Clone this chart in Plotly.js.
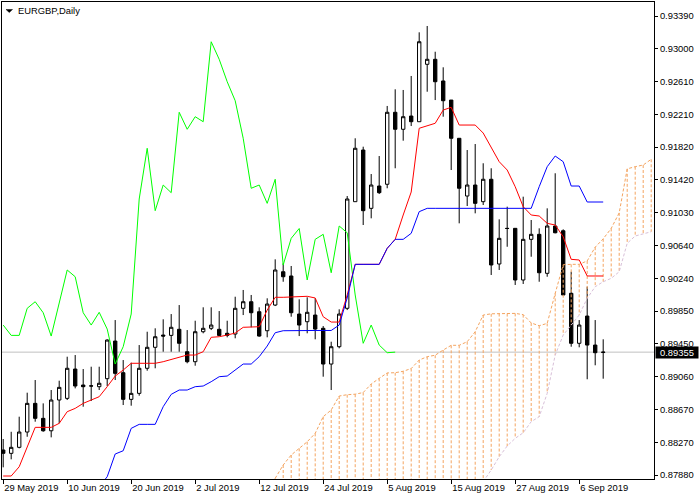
<!DOCTYPE html>
<html><head><meta charset="utf-8">
<script src="https://cdn.plot.ly/plotly-3.0.1.min.js"></script>
<style>html,body{margin:0;padding:0;background:#fff}#chart{width:700px;height:500px}</style>
</head><body><div id="chart"></div>
<script>
const symbolTitle = "EURGBP,Daily";
const xTickLabels = ["29 May 2019","10 Jun 2019","20 Jun 2019","2 Jul 2019","12 Jul 2019","24 Jul 2019","5 Aug 2019","15 Aug 2019","27 Aug 2019","6 Sep 2019"];
const xTickBars = [0,8,16,24,32,40,48,56,64,72];
const yTickLabels = ["0.93390","0.93000","0.92610","0.92210","0.91820","0.91420","0.91030","0.90640","0.90240","0.89850","0.89450","0.89060","0.88670","0.88270","0.87880"];

const open = [0.88180,0.88140,0.88212,0.88396,0.88740,0.88560,0.88411,0.88780,0.88800,0.89152,
0.88960,0.88950,0.88940,0.89036,0.89488,0.89108,0.88788,0.88860,0.89161,0.89413,
0.89560,0.89556,0.89629,0.89360,0.89240,0.89600,0.89641,0.89629,0.89581,0.89572,
0.89881,0.89960,0.89840,0.89612,0.89920,0.90320,0.90269,0.89812,0.89720,0.89800,
0.89641,0.89212,0.89420,0.89881,0.91161,0.91781,0.91081,0.91349,0.91370,0.92234,
0.92030,0.92189,0.92121,0.92810,0.92870,0.92610,0.92381,0.91922,0.91229,0.91361,
0.91161,0.91430,0.90413,0.90841,0.90841,0.90221,0.90709,0.90769,0.90301,0.90869,
0.90812,0.90061,0.89461,0.89788,0.89440,0.89350];
const high = [0.88312,0.88399,0.88580,0.88868,0.89020,0.88740,0.88900,0.89012,0.89300,0.89320,
0.89152,0.89180,0.89180,0.89509,0.89740,0.89260,0.89228,0.89440,0.89600,0.89641,
0.89749,0.89812,0.89920,0.89620,0.89732,0.89893,0.89893,0.89848,0.89732,0.90020,
0.90101,0.90041,0.89893,0.90001,0.90469,0.90421,0.90389,0.89989,0.90013,0.90001,
0.89668,0.89480,0.89869,0.91229,0.91922,0.91821,0.91493,0.91709,0.92310,0.92510,
0.92502,0.92670,0.93194,0.93270,0.92961,0.92774,0.92381,0.91922,0.91781,0.91853,
0.91622,0.91562,0.90949,0.91101,0.90841,0.91221,0.90941,0.90841,0.91081,0.91502,
0.90829,0.90320,0.89740,0.90140,0.89740,0.89509];
const low = [0.87972,0.88068,0.88200,0.88339,0.88520,0.88399,0.88332,0.88500,0.88780,0.88920,
0.88700,0.88768,0.88900,0.88948,0.89020,0.88720,0.88712,0.88832,0.89132,0.89161,
0.89360,0.89360,0.89360,0.89221,0.89192,0.89581,0.89620,0.89548,0.89533,0.89521,
0.89800,0.89653,0.89540,0.89533,0.89908,0.90200,0.89780,0.89548,0.89581,0.89509,
0.89060,0.88900,0.89401,0.89860,0.91161,0.90881,0.90961,0.91253,0.91322,0.91562,
0.91893,0.92069,0.92121,0.92481,0.92381,0.92181,0.91541,0.90901,0.91109,0.91021,
0.91121,0.90281,0.90341,0.90620,0.90161,0.90173,0.90500,0.90200,0.90260,0.90781,
0.90041,0.89420,0.89413,0.89029,0.89197,0.89036];
const close = [0.88140,0.88212,0.88396,0.88740,0.88560,0.88411,0.88780,0.88932,0.89161,0.88948,
0.88940,0.88948,0.88981,0.89500,0.89100,0.88788,0.88860,0.89161,0.89413,0.89540,
0.89548,0.89653,0.89461,0.89240,0.89600,0.89641,0.89680,0.89556,0.89556,0.89881,
0.89960,0.89828,0.89548,0.89932,0.90341,0.90260,0.89828,0.89680,0.89833,0.89632,
0.89212,0.89420,0.89812,0.91193,0.91802,0.91053,0.91361,0.91269,0.92234,0.92030,
0.92181,0.92121,0.93081,0.92870,0.92601,0.92373,0.91922,0.91322,0.91361,0.91141,
0.91430,0.90401,0.90721,0.90839,0.90221,0.90709,0.90769,0.90308,0.90869,0.90788,
0.90041,0.89461,0.89680,0.89440,0.89348,0.89355];

// Tenkan-sen (red)
const tenkan = [0.87868,0.87868,0.87979,0.88228,0.88452,0.88452,0.88452,0.88500,0.88640,0.88680,
0.88740,0.88780,0.88820,0.88940,0.89068,0.89140,0.89221,0.89221,0.89221,0.89221,
0.89240,0.89269,0.89300,0.89320,0.89320,0.89360,0.89533,0.89540,0.89560,0.89584,
0.89653,0.89653,0.89660,0.89860,0.90013,0.90013,0.90017,0.90020,0.90025,0.90005,
0.89780,0.89716,0.89716,0.90041,0.90409,0.90409,0.90409,0.90409,0.90601,0.90709,
0.91001,0.91277,0.92042,0.92069,0.92102,0.92261,0.92294,0.92081,0.92081,0.92081,
0.91985,0.91817,0.91641,0.91541,0.91341,0.91101,0.91001,0.90989,0.90901,0.90881,
0.90740,0.90469,0.90461,0.90269,0.90269,0.90269];
// Kijun-sen (blue)
const kijun = [null,null,null,null,null,null,null,null,null,null,
null,0.87620,0.87738,0.87859,0.88132,0.88171,0.88440,0.88488,0.88488,0.88488,
0.88700,0.88848,0.88900,0.88900,0.88940,0.88948,0.89000,0.89060,0.89068,0.89140,
0.89212,0.89212,0.89300,0.89428,0.89588,0.89612,0.89615,0.89615,0.89615,0.89615,
0.89615,0.89615,0.89680,0.90005,0.90409,0.90409,0.90409,0.90409,0.90601,0.90709,
0.90709,0.90781,0.91041,0.91081,0.91081,0.91081,0.91081,0.91081,0.91081,0.91081,
0.91081,0.91081,0.91081,0.91081,0.91081,0.91081,0.91081,0.91341,0.91581,0.91709,
0.91641,0.91349,0.91349,0.91157,0.91157,0.91157];
// Senkou Span A (sandy brown), bars 0..81
const senkouA = [null,null,null,null,null,null,null,null,null,null,
null,null,null,null,null,null,null,null,null,null,
null,null,null,null,null,null,null,null,null,null,
null,null,null,null,0.87840,0.88000,0.88120,0.88200,0.88279,0.88380,
0.88580,0.88660,0.88828,0.88844,0.88850,0.88870,0.88972,0.89040,0.89105,0.89108,
0.89125,0.89158,0.89260,0.89300,0.89318,0.89380,0.89437,0.89437,0.89480,0.89600,
0.89800,0.89815,0.89818,0.89818,0.89820,0.89805,0.89705,0.89672,0.89700,0.90060,
0.90404,0.90409,0.90409,0.90450,0.90615,0.90715,0.90840,0.91027,0.91555,0.91581,
0.91601,0.91670];
// Senkou Span B (thistle), bars 0..81
const senkouB = [null,null,null,null,null,null,null,null,null,null,
null,null,null,null,null,null,null,null,null,null,
null,null,null,null,null,null,null,null,null,null,
null,null,null,null,null,null,null,null,null,null,
null,null,null,null,null,null,null,null,null,null,
null,null,null,null,null,null,null,null,null,null,
0.87800,0.87940,0.88099,0.88228,0.88320,0.88387,0.88520,0.88580,0.88860,0.89320,
0.89560,0.89680,0.89800,0.90001,0.90140,0.90200,0.90241,0.90320,0.90661,0.90749,
0.90773,0.90800];
const chikouShift = 26;

const FONT = "Liberation Sans, Arial, sans-serif";
const yTop = 0.93558, yBottom = 0.87832;
const bars = close.map((_, i) => i);

const candles = {
  type: 'candlestick', x: bars, open: open, high: high, low: low, close: close,
  increasing: {line: {color: '#000000', width: 1}, fillcolor: '#ffffff'},
  decreasing: {line: {color: '#000000', width: 1}, fillcolor: '#000000'},
  whiskerwidth: 0, hoverinfo: 'skip', showlegend: false
};

// cloud hatching: one vertical dotted segment per bar between span A and span B
const hx = [], hy = [];
senkouA.forEach((a, i) => {
  if (a === null) return;
  const b = senkouB[i] === null ? yBottom - 0.001 : senkouB[i];
  hx.push(i, i, null); hy.push(a, b, null);
});
const hatch = {type: 'scatter', mode: 'lines', x: hx, y: hy,
  line: {color: '#f4a460', width: 1, dash: '3px,2px'}, hoverinfo: 'skip', showlegend: false};

const idxA = senkouA.map((_, i) => i);
const spanA = {type: 'scatter', mode: 'lines', x: idxA, y: senkouA,
  line: {color: '#f4a460', width: 1, dash: '3px,2px'}, hoverinfo: 'skip', showlegend: false};
const spanB = {type: 'scatter', mode: 'lines', x: idxA, y: senkouB,
  line: {color: '#d8bfd8', width: 1, dash: '3px,2px'}, hoverinfo: 'skip', showlegend: false};

const chikou = {type: 'scatter', mode: 'lines',
  x: bars.slice(chikouShift).map(i => i - chikouShift), y: close.slice(chikouShift),
  line: {color: '#00ff00', width: 1}, hoverinfo: 'skip', showlegend: false};
const tenkanTr = {type: 'scatter', mode: 'lines', x: bars, y: tenkan,
  line: {color: '#ff0000', width: 1}, hoverinfo: 'skip', showlegend: false};
const kijunTr = {type: 'scatter', mode: 'lines', x: bars, y: kijun,
  line: {color: '#0000ff', width: 1}, hoverinfo: 'skip', showlegend: false};

const n = yTickLabels.length;
const t0 = parseFloat(yTickLabels[0]), t1 = parseFloat(yTickLabels[n - 1]);
const yTickVals = yTickLabels.map((_, k) => t0 + (t1 - t0) * k / (n - 1));

const last = close[close.length - 1];

const layout = {
  width: 700, height: 500,
  margin: {l: 2, r: 46, t: 2, b: 21, pad: 0},
  paper_bgcolor: '#ffffff', plot_bgcolor: '#ffffff',
  showlegend: false, hovermode: false, boxgap: 0.4,
  title: {text: symbolTitle, font: {family: FONT, size: 9.4, color: '#000'},
    x: 18 / 700, xanchor: 'left', xref: 'container', y: 1 - 11 / 500, yanchor: 'middle', yref: 'container'},
  xaxis: {range: [-0.15, 81.35], showgrid: false, zeroline: false,
    showline: true, mirror: true, linecolor: '#000', linewidth: 1,
    tickmode: 'array', tickvals: xTickBars, ticktext: xTickLabels,
    ticks: 'outside', ticklen: 4, tickcolor: '#000', ticklabelposition: 'outside right',
    tickfont: {family: FONT, size: 9.4, color: '#000'},
    rangeslider: {visible: false}, fixedrange: true},
  yaxis: {range: [yBottom, yTop], side: 'right', showgrid: false, zeroline: false,
    showline: true, mirror: true, linecolor: '#000', linewidth: 1,
    tickmode: 'array', tickvals: yTickVals, ticktext: yTickLabels,
    ticks: 'outside', ticklen: 3, tickcolor: '#000',
    tickfont: {family: FONT, size: 9.4, color: '#000'}, fixedrange: true},
  shapes: [
    {type: 'line', xref: 'paper', x0: 0, x1: 1, yref: 'y', y0: last, y1: last,
      line: {color: '#c0c0c0', width: 1}, layer: 'below'},
    {type: 'path', xref: 'paper', yref: 'paper',
      path: 'M0.00613,0.98428 L0.01610,0.98428 L0.01112,0.97799 Z',
      fillcolor: '#000', line: {color: '#000', width: 0.5}}
  ],
  annotations: [
    {xref: 'paper', x: 1, xanchor: 'left', xshift: 1, yref: 'y', y: last, yanchor: 'middle',
      text: last.toFixed(5), showarrow: false, bgcolor: '#000000', width: 40, height: 9,
      borderpad: 1, align: 'center', font: {family: FONT, size: 9.4, color: '#ffffff'}}
  ]
};

Plotly.newPlot('chart', [candles, hatch, spanA, spanB, chikou, tenkanTr, kijunTr], layout,
  {displayModeBar: false, staticPlot: true});
</script></body></html>
